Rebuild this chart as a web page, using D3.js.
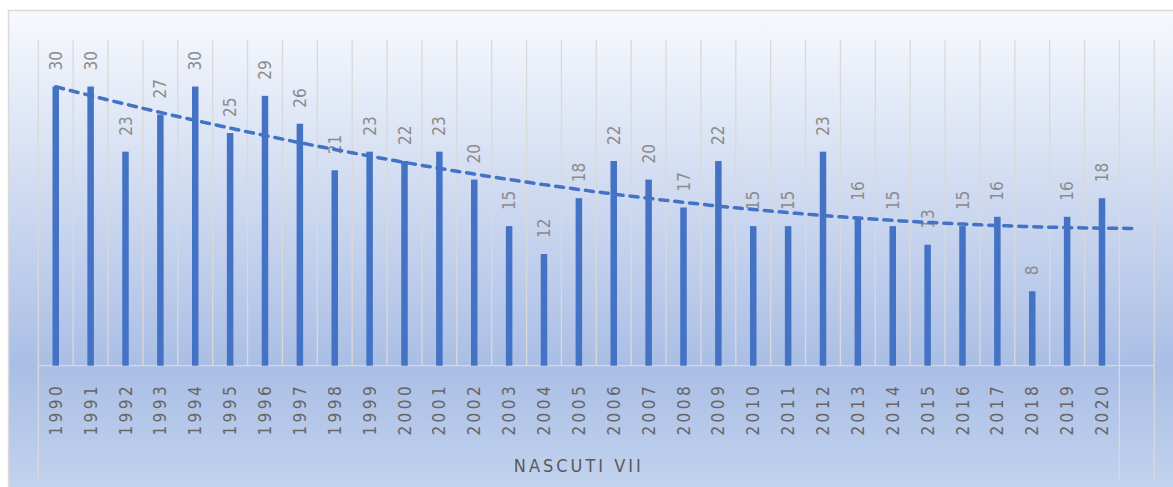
<!DOCTYPE html>
<html>
<head>
<meta charset="utf-8">
<script src="https://cdn.jsdelivr.net/npm/d3@7"></script>
<style>
  body { margin: 0; background: #fff; overflow: hidden; }
  #chart svg { display: block; }
</style>
</head>
<body>
<div id="chart"></div>
<script>
// data
const years = ["1990", "1991", "1992", "1993", "1994", "1995", "1996", "1997", "1998", "1999",
  "2000", "2001", "2002", "2003", "2004", "2005", "2006", "2007", "2008", "2009",
  "2010", "2011", "2012", "2013", "2014", "2015", "2016", "2017", "2018", "2019", "2020"];
const births = [30, 30, 23, 27, 30, 25, 29, 26, 21, 23,
  22, 23, 20, 15, 12, 18, 22, 20, 17, 22,
  15, 15, 23, 16, 15, 13, 15, 16, 8, 16, 18];
const groupLabel = "NASCUTI VII";
const emptySlot = "extra"; // empty last category box on the axis

const W = 1173, H = 487;
const plot = { left: 38.3, right: 1154.3, top: 40, bottom: 365.7 };

const svg = d3.select("#chart").append("svg")
  .attr("width", W).attr("height", H);

const defs = svg.append("defs");
const grad = defs.append("linearGradient")
  .attr("id", "bg").attr("gradientUnits", "userSpaceOnUse")
  .attr("x1", 0).attr("y1", 10).attr("x2", 0).attr("y2", 490);
grad.append("stop").attr("offset", 0).attr("stop-color", "#f7f9fd");
grad.append("stop").attr("offset", 0.74).attr("stop-color", "#aabee5");
grad.append("stop").attr("offset", 1).attr("stop-color", "#c2d3ee");

// chart area (cut off at right and bottom)
svg.append("rect")
  .attr("x", 8.5).attr("y", 10.5)
  .attr("width", W + 20).attr("height", H + 20)
  .attr("fill", "url(#bg)")
  .attr("stroke", "#d9d9d9").attr("stroke-width", 1.5);

const cats = years.concat([emptySlot]);
const x = d3.scaleBand().domain(cats).range([plot.left, plot.right]).padding(0);
const y = d3.scaleLinear().domain([0, 35]).range([plot.bottom, plot.top]);
const bw = x.bandwidth();

// vertical gridlines at category boundaries
const edges = cats.map(c => x(c)).concat([plot.right]);
svg.append("g").selectAll("line").data(edges).enter().append("line")
  .attr("x1", d => d).attr("x2", d => d)
  .attr("y1", plot.top).attr("y2", plot.bottom)
  .attr("stroke", "#d9d9d9").attr("stroke-width", 1.3);

// category axis boxes
const axisBottom = 479;
const axisG = svg.append("g").attr("stroke", "#d9d9d9").attr("stroke-width", 1.3);
axisG.append("line").attr("x1", plot.left).attr("x2", plot.right)
  .attr("y1", plot.bottom).attr("y2", plot.bottom);
[plot.left, x(emptySlot), plot.right].forEach(px => {
  axisG.append("line").attr("x1", px).attr("x2", px)
    .attr("y1", plot.bottom).attr("y2", axisBottom);
});

// bars
const barW = 6.5;
svg.append("g").selectAll("rect").data(births).enter().append("rect")
  .attr("x", (d, i) => x(years[i]) + bw / 2 - barW / 2)
  .attr("y", d => y(d))
  .attr("width", barW)
  .attr("height", d => y(0) - y(d))
  .attr("fill", "#4472c4");

const font = "'DejaVu Sans Condensed', 'DejaVu Sans', sans-serif";

// data labels
svg.append("g").selectAll("text").data(births).enter().append("text")
  .attr("transform", (d, i) => `translate(${x(years[i]) + bw / 2},${y(d) - 16}) rotate(-90)`)
  .attr("dy", "0.36em")
  .attr("text-anchor", "start")
  .style("font-family", font)
  .style("font-size", "17px")
  .attr("fill", "#8c8c8c")
  .text(d => d);

// year labels
svg.append("g").selectAll("text").data(years).enter().append("text")
  .attr("transform", d => `translate(${x(d) + bw / 2},${plot.bottom + 17}) rotate(-90)`)
  .attr("dy", "0.36em")
  .attr("text-anchor", "end")
  .style("font-family", font)
  .style("font-size", "17px")
  .style("letter-spacing", "3.5px")
  .attr("fill", "#666666")
  .text(d => d);

// group label
svg.append("text")
  .attr("x", (plot.left + x(emptySlot)) / 2)
  .attr("y", 472)
  .attr("text-anchor", "middle")
  .style("font-family", font)
  .style("font-size", "18px")
  .style("letter-spacing", "3px")
  .attr("fill", "#595959")
  .text(groupLabel);

// polynomial (order 2) trendline, forecast forward one period
function quadFit(vals) {
  const n = vals.length;
  let s = [0, 0, 0, 0, 0], t = [0, 0, 0];
  vals.forEach((v, i) => {
    const xi = i + 1;
    for (let k = 0; k < 5; k++) s[k] += Math.pow(xi, k);
    for (let k = 0; k < 3; k++) t[k] += v * Math.pow(xi, k);
  });
  const A = [[s[0], s[1], s[2], t[0]], [s[1], s[2], s[3], t[1]], [s[2], s[3], s[4], t[2]]];
  for (let c = 0; c < 3; c++) {
    for (let r = c + 1; r < 3; r++) {
      const f = A[r][c] / A[c][c];
      for (let k = c; k < 4; k++) A[r][k] -= f * A[c][k];
    }
  }
  const b = [0, 0, 0];
  for (let r = 2; r >= 0; r--) {
    let sum = A[r][3];
    for (let k = r + 1; k < 3; k++) sum -= A[r][k] * b[k];
    b[r] = sum / A[r][r];
  }
  return xi => b[0] + b[1] * xi + b[2] * xi * xi;
}
const trend = quadFit(births);
const trendPts = d3.range(1, cats.length + 0.01, 0.25);
const line = d3.line()
  .x(xi => x(cats[0]) + bw / 2 + (xi - 1) * bw)
  .y(xi => y(trend(xi)));
svg.append("path")
  .datum(trendPts)
  .attr("d", line)
  .attr("fill", "none")
  .attr("stroke", "#4472c4")
  .attr("stroke-width", 3.5)
  .attr("stroke-dasharray", "8 7")
  .attr("stroke-linecap", "round");
</script>
</body>
</html>
